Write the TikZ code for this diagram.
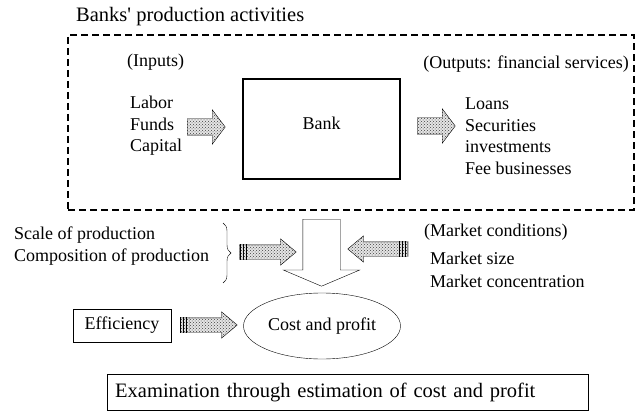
\documentclass[tikz,border=0pt]{standalone}
\usepackage{fontspec}
\setmainfont{Liberation Serif}[Ligatures=TeXOff]
\usetikzlibrary{shapes.arrows, shapes.geometric, patterns, decorations.pathreplacing, calc}
\tikzset{
  dotfill/.style={preaction={fill=gray!20}, pattern=crosshatch dots, pattern color=black!75},
  bigarr/.style={single arrow, draw, dotfill, inner xsep=0pt, inner ysep=8pt,
    single arrow head extend=9pt, single arrow tip angle=106, minimum height=38pt},
  smallarr/.style={single arrow, draw, dotfill, inner xsep=0pt, inner ysep=7pt,
    single arrow head extend=6pt, single arrow tip angle=80, minimum height=57pt},
  stripes/.style={pattern=vertical lines, pattern color=black},
  plainbox/.style={draw, rectangle, inner sep=0pt},
  lefttext/.style={anchor=west, align=left, inner sep=0pt},
  bigfont/.style={font=\fontsize{20.5}{24}\selectfont},
}

\begin{document}
\begin{tikzpicture}[x=1pt, y=-1pt, font=\fontsize{18}{21.5}\selectfont]
  \useasboundingbox (0,0) rectangle (639,414);

  \node[lefttext, bigfont] (title) at (76,17) {Banks' production activities};
  \node[plainbox, dashed, dash pattern=on 7pt off 4pt, line width=1.2pt,
        minimum width=566pt, minimum height=175pt] (activity) at (351,122.5) {};

  \node[lefttext] (inputs) at (127,62) {(Inputs)};
  \node[anchor=east, inner sep=0pt] (outputs) at (629,64) {(Outputs: financial services)};
  \node[lefttext] (factors) at (130,126) {Labor\\Funds\\Capital};
  \node[plainbox, line width=1.1pt, minimum width=157pt, minimum height=100pt,
        text depth=12pt] (bank) at (321.5,129) {Bank};
  \node[bigarr, anchor=tail] (inarr) at (187,127) {};
  \node[bigarr, anchor=tail] (outarr) at (417,126) {};
  \node[lefttext] (services) at (465,136) {Loans\\Securities\\investments\\Fee businesses};

  \node[lefttext] (production) at (14,246) {Scale of production\\Composition of production};
  \draw[decorate, decoration={brace, amplitude=8pt}] (223,223) -- (223,283);
  \node[smallarr, anchor=tail] (prodarr) at (239,252) {};
  \path[stripes] (prodarr.before tail) rectangle ($(prodarr.after tail)+(9,0)$);

  \node[single arrow, draw, fill=white, rotate=-90, inner xsep=0pt, inner ysep=18.5pt,
        single arrow head extend=19.5pt, single arrow tip angle=134,
        minimum height=67pt, anchor=tail] (down) at (321.5,219) {};

  \node[smallarr, rotate=180, minimum height=60pt, anchor=tail] (marketarr) at (408,249) {};
  \path[stripes] (marketarr.before tail) rectangle ($(marketarr.after tail)+(-10,0)$);
  \node[lefttext] (market) at (424,232) {(Market conditions)};
  \node[lefttext] (marketitems) at (430,269.5) {Market size\\[1.5pt]Market concentration};

  \node[draw, ellipse, inner sep=0pt, minimum width=157pt, minimum height=66pt] (cost)
    at (322,326) {Cost and profit};
  \node[plainbox, minimum width=98pt, minimum height=33pt] (efficiency) at (122,325.5) {Efficiency};
  \node[smallarr, anchor=tail] (effarr) at (180,325) {};
  \path[stripes] (effarr.before tail) rectangle ($(effarr.after tail)+(9,0)$);

  \node[plainbox, bigfont, anchor=west, inner xsep=8pt, text width=465pt, align=left,
        minimum height=36pt] (exam) at (107,392)
    {Examination through estimation of cost and profit};
\end{tikzpicture}
\end{document}
